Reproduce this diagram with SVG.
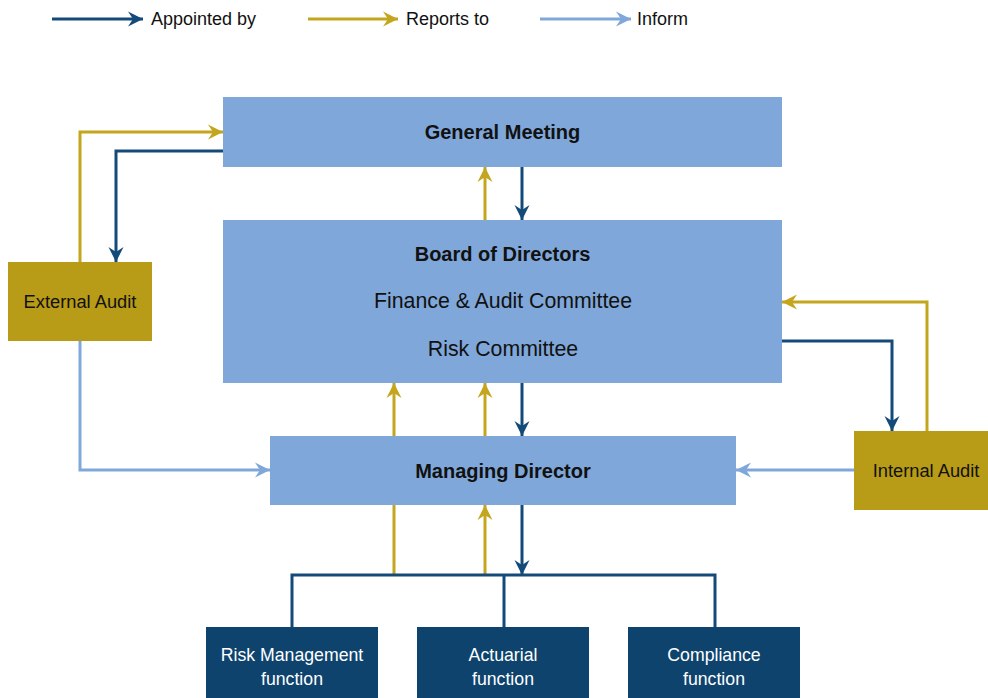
<svg xmlns="http://www.w3.org/2000/svg" width="988" height="698" viewBox="0 0 988 698">
  <style>
    text { font-family: "Liberation Sans", Arial, sans-serif; fill: #111; }
    .box { fill: #7fa7d9; }
    .audit { fill: #b89b16; }
    .func { fill: #0e436e; }
    .title { font-size: 20px; font-weight: bold; }
    .sub { font-size: 21.3px; }
    .aud { font-size: 18.3px; }
    .fn { font-size: 17.7px; fill: #ffffff; }
    .leg { font-size: 18px; }
    .appoint { fill: none; stroke: #134a7a; stroke-width: 3; }
    .report { fill: none; stroke: #c4a51e; stroke-width: 3; }
    .inform { fill: none; stroke: #7fa7d9; stroke-width: 3; }
    .ha { marker-end: url(#arrAppoint); }
    .hr { marker-end: url(#arrReport); }
    .hi { marker-end: url(#arrInform); }
  </style>
  <defs>
    <marker id="arrAppoint" markerUnits="userSpaceOnUse" markerWidth="16" markerHeight="16" refX="15" refY="8" orient="auto">
      <path d="M0,0.5 L15,8 L0,15.5 L5,8 Z" fill="#134a7a"/>
    </marker>
    <marker id="arrReport" markerUnits="userSpaceOnUse" markerWidth="16" markerHeight="16" refX="15" refY="8" orient="auto">
      <path d="M0,0.5 L15,8 L0,15.5 L5,8 Z" fill="#c4a51e"/>
    </marker>
    <marker id="arrInform" markerUnits="userSpaceOnUse" markerWidth="16" markerHeight="16" refX="15" refY="8" orient="auto">
      <path d="M0,0.5 L15,8 L0,15.5 L5,8 Z" fill="#7fa7d9"/>
    </marker>
  </defs>

  <rect width="988" height="698" fill="#ffffff"/>

  <!-- legend -->
  <g id="legend">
    <line class="appoint ha" x1="52" y1="19" x2="143" y2="19"/>
    <text class="leg" x="151" y="25">Appointed by</text>
    <line class="report hr" x1="308" y1="19" x2="398" y2="19"/>
    <text class="leg" x="406" y="25">Reports to</text>
    <line class="inform hi" x1="540" y1="19" x2="631" y2="19"/>
    <text class="leg" x="637" y="25">Inform</text>
  </g>

  <!-- connectors -->
  <g id="connectors">
    <!-- external audit -->
    <path class="report hr" d="M80,262 V132 H223"/>
    <path class="appoint ha" d="M223,151 H116 V262"/>
    <path class="inform hi" d="M80,341 V470 H270"/>
    <!-- general meeting / board -->
    <path class="report hr" d="M485,220 V167"/>
    <path class="appoint ha" d="M522,167 V220"/>
    <!-- board / managing director -->
    <path class="report hr" d="M394,436 V383"/>
    <path class="report hr" d="M485,436 V383"/>
    <path class="appoint ha" d="M522,383 V436"/>
    <!-- internal audit -->
    <path class="report hr" d="M927,431 V302 H782"/>
    <path class="appoint ha" d="M782,341 H892 V431"/>
    <path class="inform hi" d="M854,470 H736"/>
    <!-- managing director / functions -->
    <path class="report" d="M394,575 V505"/>
    <path class="report hr" d="M485,575 V505"/>
    <path class="appoint ha" d="M522,505 V575"/>
    <path class="appoint" d="M292,627 V575 H715 V627"/>
    <path class="appoint" d="M504,575 V627"/>
  </g>

  <g id="general-meeting">
    <rect class="box" x="223" y="97" width="559" height="70"/>
    <text class="title" x="502.5" y="139" text-anchor="middle">General Meeting</text>
  </g>

  <g id="board">
    <rect class="box" x="223" y="220" width="559" height="163"/>
    <text class="title" x="502.5" y="261" text-anchor="middle">Board of Directors</text>
    <text class="sub" x="503" y="308" text-anchor="middle">Finance &amp; Audit Committee</text>
    <text class="sub" x="503" y="356" text-anchor="middle">Risk Committee</text>
  </g>

  <g id="managing-director">
    <rect class="box" x="270" y="436" width="466" height="69"/>
    <text class="title" x="503" y="478" text-anchor="middle">Managing Director</text>
  </g>

  <g id="external-audit">
    <rect class="audit" x="8" y="262" width="144" height="79"/>
    <text class="aud" x="80" y="308" text-anchor="middle">External Audit</text>
  </g>

  <g id="internal-audit">
    <rect class="audit" x="854" y="431" width="134" height="79"/>
    <text class="aud" x="926" y="477" text-anchor="middle">Internal Audit</text>
  </g>

  <g id="risk-management">
    <rect class="func" x="206" y="627" width="172" height="71"/>
    <text class="fn" x="292" y="661" text-anchor="middle">Risk Management</text>
    <text class="fn" x="292" y="685" text-anchor="middle">function</text>
  </g>

  <g id="actuarial">
    <rect class="func" x="417" y="627" width="172" height="71"/>
    <text class="fn" x="503" y="661" text-anchor="middle">Actuarial</text>
    <text class="fn" x="503" y="685" text-anchor="middle">function</text>
  </g>

  <g id="compliance">
    <rect class="func" x="628" y="627" width="172" height="71"/>
    <text class="fn" x="714" y="661" text-anchor="middle">Compliance</text>
    <text class="fn" x="714" y="685" text-anchor="middle">function</text>
  </g>
</svg>
